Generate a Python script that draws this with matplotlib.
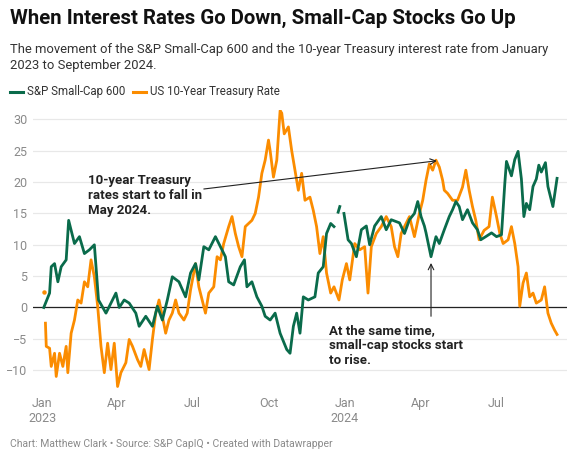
import matplotlib
matplotlib.use("Agg")
import matplotlib.pyplot as plt
from matplotlib.lines import Line2D
import numpy as np
import pandas as pd

plt.rcParams['font.family'] = ['Roboto', 'DejaVu Sans']

# Datos (variación en %)
fechas_sp600 = [
    "2023-01-03", "2023-01-10", "2023-01-12", "2023-01-16", "2023-01-20", "2023-01-24",
    "2023-01-30", "2023-02-02", "2023-02-09", "2023-02-15", "2023-02-21", "2023-02-27",
    "2023-03-05", "2023-03-07", "2023-03-10", "2023-03-19", "2023-03-25", "2023-03-31",
    "2023-04-04", "2023-04-10", "2023-04-16", "2023-04-24", "2023-04-28", "2023-05-06",
    "2023-05-14", "2023-05-20", "2023-05-26", "2023-06-01", "2023-06-07", "2023-06-15",
    "2023-06-23", "2023-06-29", "2023-07-05", "2023-07-09", "2023-07-15", "2023-07-21",
    "2023-07-29", "2023-08-04", "2023-08-10", "2023-08-14", "2023-08-20", "2023-08-28",
    "2023-09-02", "2023-09-05", "2023-09-11", "2023-09-17", "2023-09-23", "2023-09-27",
    "2023-10-03", "2023-10-09", "2023-10-15", "2023-10-23", "2023-10-27", "2023-10-31",
    "2023-11-04", "2023-11-08", "2023-11-12", "2023-11-18", "2023-11-26", "2023-11-30",
    "2023-12-06", "2023-12-10", "2023-12-15", "2023-12-19", "2023-12-21", "2023-12-24",
    "2023-12-26", "2023-12-28", "2023-12-31", "2024-01-05", "2024-01-09", "2024-01-15",
    "2024-01-21", "2024-01-27", "2024-01-31", "2024-02-06", "2024-02-14", "2024-02-20",
    "2024-02-26", "2024-03-07", "2024-03-13", "2024-03-19", "2024-03-25", "2024-03-29",
    "2024-04-02", "2024-04-06", "2024-04-08", "2024-04-14", "2024-04-20", "2024-04-24",
    "2024-04-30", "2024-05-06", "2024-05-10", "2024-05-14", "2024-05-18", "2024-05-22",
    "2024-05-28", "2024-06-03", "2024-06-09", "2024-06-13", "2024-06-19", "2024-06-26",
    "2024-07-02", "2024-07-08", "2024-07-12", "2024-07-14", "2024-07-20", "2024-07-24",
    "2024-07-28", "2024-08-01", "2024-08-04", "2024-08-07", "2024-08-11", "2024-08-15",
    "2024-08-19", "2024-08-22", "2024-08-25", "2024-08-30", "2024-09-02", "2024-09-08",
    "2024-09-13",
]
valores_sp600 = [
    0, 2.3, 6.5, 7, 4.1, 6.5,
    7.6, 13.9, 10.2, 11.3, 8.6, 9.2,
    10, 6.5, 1.2, -0.9, 0.7, 2.3,
    0, 1.2, 0.7, -0.9, -3, -1.4,
    -3, 0.2, -2, 1.2, 4.9, 4.1,
    1.7, 5.5, 7, 4.4, 9.7, 9.2,
    11.3, 9.7, 8.1, 4.1, 3.6, 6.5,
    7.6, 3.3, 4.1, 1.7, 0.2, -1.4,
    -2, -0.9, -4.1, -6.7, -7.3, -3,
    -0.9, -4.1, 1.7, 1.2, 1.7, 5.5,
    6.5, 11.8, 13.4, 12.9, np.nan, 15.2,
    16.1, np.nan, 15.0, 10.8, 10.2, 8.1,
    12.4, 13, 10, 13, 14.5, 12.4,
    14, 13.5, 11.8, 14, 15, 16.9,
    14.5, 13, 11.9, 8.1, 11.3, 10.2,
    12.4, 14.5, 15.6, 16.9, 16.1, 14,
    15.6, 13.5, 12.4, 10.8, 11.3, 11.9,
    11.3, 11.6, 19.8, 23.3, 21, 23.6,
    24.9, 20.5, 14.5, 16.6, 15.6, 19.3,
    20.5, 22.7, 21.6, 23.1, 19.3, 16.1,
    20.6,
]

fechas_tesoro = [
    "2023-01-03", "2023-01-04", "2023-01-05", "2023-01-06", "2023-01-10", "2023-01-12",
    "2023-01-16", "2023-01-18", "2023-01-22", "2023-01-26", "2023-01-30", "2023-02-01",
    "2023-02-05", "2023-02-09", "2023-02-13", "2023-02-17", "2023-02-21", "2023-02-25",
    "2023-03-01", "2023-03-05", "2023-03-09", "2023-03-13", "2023-03-17", "2023-03-21",
    "2023-03-25", "2023-03-29", "2023-04-02", "2023-04-06", "2023-04-12", "2023-04-16",
    "2023-04-20", "2023-04-26", "2023-04-30", "2023-05-04", "2023-05-10", "2023-05-14",
    "2023-05-18", "2023-05-22", "2023-05-26", "2023-05-30", "2023-06-03", "2023-06-07",
    "2023-06-11", "2023-06-15", "2023-06-21", "2023-06-25", "2023-06-29", "2023-07-05",
    "2023-07-09", "2023-07-13", "2023-07-17", "2023-07-21", "2023-07-27", "2023-07-31",
    "2023-08-04", "2023-08-08", "2023-08-14", "2023-08-18", "2023-08-22", "2023-08-26",
    "2023-08-30", "2023-09-03", "2023-09-07", "2023-09-11", "2023-09-15", "2023-09-19",
    "2023-09-23", "2023-09-27", "2023-10-01", "2023-10-03", "2023-10-07", "2023-10-11",
    "2023-10-15", "2023-10-17", "2023-10-20", "2023-10-25", "2023-10-29", "2023-11-02",
    "2023-11-06", "2023-11-10", "2023-11-14", "2023-11-20", "2023-11-24", "2023-11-28",
    "2023-12-02", "2023-12-06", "2023-12-10", "2023-12-15", "2023-12-19", "2023-12-25",
    "2023-12-29", "2024-01-03", "2024-01-07", "2024-01-13", "2024-01-19", "2024-01-25",
    "2024-01-29", "2024-02-02", "2024-02-08", "2024-02-14", "2024-02-20", "2024-02-26",
    "2024-03-01", "2024-03-05", "2024-03-09", "2024-03-13", "2024-03-19", "2024-03-25",
    "2024-03-31", "2024-04-04", "2024-04-08", "2024-04-12", "2024-04-16", "2024-04-20",
    "2024-04-24", "2024-04-28", "2024-04-30", "2024-05-04", "2024-05-10", "2024-05-16",
    "2024-05-22", "2024-05-26", "2024-05-30", "2024-06-03", "2024-06-07", "2024-06-11",
    "2024-06-17", "2024-06-23", "2024-06-27", "2024-07-02", "2024-07-06", "2024-07-10",
    "2024-07-16", "2024-07-20", "2024-07-24", "2024-07-28", "2024-07-30", "2024-08-03",
    "2024-08-07", "2024-08-11", "2024-08-15", "2024-08-19", "2024-08-25", "2024-08-29",
    "2024-09-02", "2024-09-06", "2024-09-10", "2024-09-13",
]
valores_tesoro = [
    2.4, np.nan, -2.5, -6.2, -6.5, -9.4,
    -7.3, -11, -7.3, -9.4, -6.2, -10.4,
    -4.1, -2, 1.2, 0.7, 4.1, 3.3,
    7.6, 4.9, 0.2, -6.2, -10.4, -5.7,
    -9.9, -5.7, -12.6, -10.4, -8.8, -5.1,
    -6.2, -8.3, -9.4, -6.7, -9.9, -5.1,
    -0.9, 1.2, -1.4, -4.1, -2, -0.9,
    1.2, -0.9, -2, -0.9, 2.8, 7,
    3.3, 1.2, -0.9, 2.3, 3.3, 8.1,
    7.6, 10.2, 12.9, 14.5, 11.8, 9.7,
    8.1, 12.9, 13.4, 13.9, 15, 17.6,
    21.4, 23.5, 26.7, 25, 20.8, 23.5,
    31.4, 31, 27.7, 28.8, 25, 21.9,
    18.7, 21.4, 17.1, 17.6, 15.5, 12.9,
    8.6, 11.3, 5.5, 2.3, 3.3, 1.2,
    4.4, 7, 4.4, 10.2, 9.2, 9.7,
    2.3, 9.7, 11.8, 12.9, 14.5, 12.9,
    9.7, 8.1, 11.8, 12.9, 14.5, 11.3,
    15, 17.1, 20.3, 22.9, 21.9, 23.5,
    22.4, 20.3, 18.7, 18.2, 17.1, 17.1,
    19.2, 21.9, 18.7, 16.1, 13.9, 10.8,
    12.3, 12.9, 17.6, 14.5, 11.8, 10.2,
    10.8, 12.9, 10.2, 6.5, 0.2, 3.9,
    5.5, 1.7, 2.3, 0.7, 1.2, 3.3,
    -0.9, -2.5, -3.6, -4.3,
]

etiquetas_x = ["Jan\n2023", "Apr", "Jul", "Oct", "Jan\n2024", "Apr", "Jul"]
fechas_ticks = ["2023-01-01", "2023-04-01", "2023-07-01", "2023-10-01",
                "2024-01-01", "2024-04-01", "2024-07-01"]
ticks_y = [-10, -5, 0, 5, 10, 15, 20, 25, 30]

VERDE = "#0a6b4b"
NARANJA = "#fb8c00"
GRIS = "#8a8a8a"

W, H = 575, 461
fig = plt.figure(figsize=(W / 100, H / 100), dpi=100)


def fx(px):
    return px / W


def fy(py):
    return 1 - py / H


ax = fig.add_axes([fx(33), fy(389), fx(567) - fx(33), fy(110) - fy(389)])

sp = pd.Series(valores_sp600, index=pd.to_datetime(fechas_sp600))
te = pd.Series(valores_tesoro, index=pd.to_datetime(fechas_tesoro))

ax.plot(te.index, te.values, color=NARANJA, lw=2.0, solid_joinstyle="round", zorder=3)
ax.plot(te.index[:1], te.values[:1], "o", color=NARANJA, ms=2.2, zorder=3)
ax.plot(sp.index, sp.values, color=VERDE, lw=2.0, solid_joinstyle="round", zorder=4)

ax.set_xlim(pd.Timestamp("2022-12-21"), pd.Timestamp("2024-09-25"))
ax.set_ylim(-13, 31.5)
ax.set_yticks(ticks_y)
ax.set_yticklabels([str(t).replace("-", "\u2212") for t in ticks_y])
ax.set_xticks(pd.to_datetime(fechas_ticks))
ax.set_xticklabels(etiquetas_x)
ax.grid(axis="y", color="#e8e8e8", lw=0.9, zorder=0)
ax.axhline(0, color="#222222", lw=0.9, zorder=2)
ax.tick_params(length=0, labelsize=9, labelcolor=GRIS)
ax.tick_params(axis="x", pad=5.5)
ax.tick_params(axis="y", pad=4)
for s in ax.spines.values():
    s.set_visible(False)

# Anotaciones
ax.text(pd.Timestamp("2023-02-25"), 21.3, "10-year Treasury\nrates start to fall in\nMay 2024.",
        fontsize=9.5, fontweight="bold", color="#222222", va="top", ha="left", linespacing=1.2, zorder=6)
ax.annotate("", xy=(pd.Timestamp("2024-04-21"), 23.4), xytext=(pd.Timestamp("2023-07-15"), 18.9),
            arrowprops=dict(arrowstyle="->", color="#222222", lw=0.8, shrinkA=0, shrinkB=0), zorder=6)
ax.text(pd.Timestamp("2023-12-13"), -2.6, "At the same time,\nsmall-cap stocks start\nto rise.",
        fontsize=9.5, fontweight="bold", color="#222222", va="top", ha="left", linespacing=1.2, zorder=6)
ax.annotate("", xy=(pd.Timestamp("2024-04-14"), 7.1), xytext=(pd.Timestamp("2024-04-14"), -1.4),
            arrowprops=dict(arrowstyle="->", color="#222222", lw=0.8, shrinkA=0, shrinkB=0), zorder=6)

# Títulos
fig.text(fx(10), fy(18), "When Interest Rates Go Down, Small-Cap Stocks Go Up",
         fontsize=14.7, fontweight="bold", color="#111111", va="center", ha="left")
fig.text(fx(10), fy(49), "The movement of the S&P Small-Cap 600 and the 10-year Treasury interest rate from January",
         fontsize=9.4, color="#333333", va="center", ha="left")
fig.text(fx(10), fy(66), "2023 to September 2024.",
         fontsize=9.4, color="#333333", va="center", ha="left")

# Leyenda
fig.add_artist(Line2D([fx(10), fx(23)], [fy(92), fy(92)], color=VERDE, lw=2.2))
fig.text(fx(27), fy(92), "S&P Small-Cap 600", fontsize=8.3, color="#333333", va="center")
fig.add_artist(Line2D([fx(133), fx(146)], [fy(92), fy(92)], color=NARANJA, lw=2.2))
fig.text(fx(150), fy(92), "US 10-Year Treasury Rate", fontsize=8.3, color="#333333", va="center")

fig.text(fx(10), fy(444), "Chart: Matthew Clark \u2022 Source: S&P CapIQ \u2022 Created with Datawrapper",
         fontsize=7.5, color=GRIS, va="center", ha="left")

fig.savefig("out.png", dpi=100)
